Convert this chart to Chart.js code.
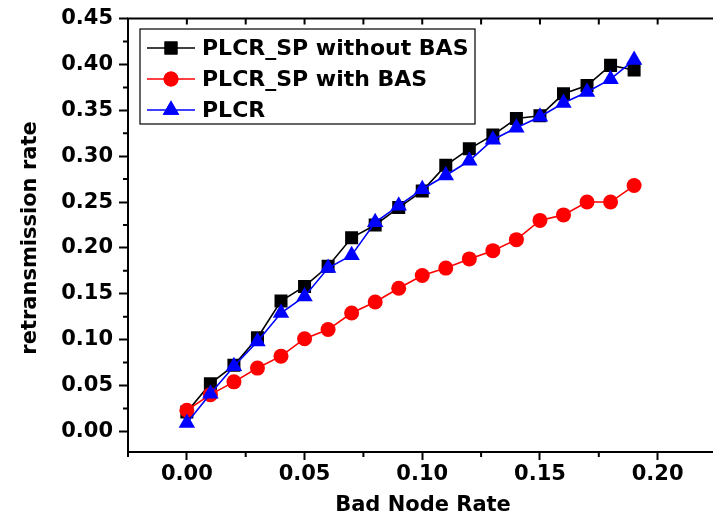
<!DOCTYPE html>
<html>
<head>
<meta charset="utf-8">
<script src="https://cdn.jsdelivr.net/npm/chart.js@4/dist/chart.umd.min.js"></script>
<style>
html,body{margin:0;padding:0;background:#fff;overflow:hidden;}
#wrap{width:730px;height:521px;}
</style>
</head>
<body>
<div id="wrap"><canvas id="c" width="726" height="521"></canvas></div>
<script>
const badNodeRate = [0.00,0.01,0.02,0.03,0.04,0.05,0.06,0.07,0.08,0.09,0.10,0.11,0.12,0.13,0.14,0.15,0.16,0.17,0.18,0.19];
const plcrSpWithoutBas = [0.021,0.052,0.072,0.102,0.142,0.158,0.180,0.211,0.225,0.244,0.262,0.290,0.308,0.323,0.341,0.344,0.368,0.377,0.399,0.394];
const plcrSpWithBas    = [0.023,0.040,0.054,0.069,0.082,0.101,0.111,0.129,0.141,0.156,0.170,0.178,0.188,0.197,0.209,0.230,0.236,0.250,0.250,0.268];
const plcr             = [0.009,0.041,0.071,0.098,0.129,0.147,0.178,0.192,0.228,0.246,0.264,0.279,0.295,0.318,0.331,0.343,0.358,0.370,0.384,0.405];
const seriesNames = ['PLCR_SP without BAS','PLCR_SP with BAS','PLCR'];
const xTickLabels = [0.00,0.05,0.10,0.15,0.20];
const yTickLabels = [0.00,0.05,0.10,0.15,0.20,0.25,0.30,0.35,0.40,0.45];
const xMinorTicks = [-0.025,0.025,0.075,0.125,0.175,0.225];
const yMinorTicks = [0.025,0.075,0.125,0.175,0.225,0.275,0.325,0.375,0.425];
const xAxisTitle = 'Bad Node Rate';
const yAxisTitle = 'retransmission rate';

const FONT = '"DejaVu Sans", "Liberation Sans", Arial, sans-serif';
const pts = (ys) => badNodeRate.map((x,i)=>({x:x,y:ys[i]}));

const styles = [
  {color:'#000000', pointStyle:'rect', radius:9.2},
  {color:'#ff0000', pointStyle:'circle', radius:7.5},
  {color:'#0000ff', pointStyle:'triangle', radius:9.5}
];
const seriesData = [plcrSpWithoutBas, plcrSpWithBas, plcr];

const datasets = seriesData.map((d,i)=>({
  label: seriesNames[i],
  data: pts(d),
  borderColor: styles[i].color,
  backgroundColor: styles[i].color,
  borderWidth: 1.6,
  pointStyle: styles[i].pointStyle,
  pointRadius: styles[i].radius,
  pointBorderWidth: 0,
  pointHoverRadius: styles[i].radius,
  tension: 0,
  order: 2 - i
}));

const framePlugin = {
  id: 'frame',
  afterDraw(chart) {
    const ctx = chart.ctx;
    const a = chart.chartArea;
    const xs = chart.scales.x, ys = chart.scales.y;
    ctx.save();
    ctx.strokeStyle = '#000';
    ctx.lineWidth = 2;
    ctx.beginPath();
    ctx.moveTo(a.left, a.bottom);
    ctx.lineTo(a.left, a.top);
    ctx.lineTo(a.right + 5, a.top);
    ctx.moveTo(a.left - 1, a.bottom);
    ctx.lineTo(a.right + 5, a.bottom);
    ctx.stroke();
    ctx.lineWidth = 2;
    ctx.beginPath();
    xMinorTicks.forEach(v=>{
      const px = xs.getPixelForValue(v);
      ctx.moveTo(px, a.bottom); ctx.lineTo(px, a.bottom + 5);
    });
    [...xTickLabels, ...xMinorTicks].forEach(v=>{
      const px = xs.getPixelForValue(v);
      ctx.moveTo(px, a.top); ctx.lineTo(px, a.top + 6);
    });
    yMinorTicks.forEach(v=>{
      const py = ys.getPixelForValue(v);
      ctx.moveTo(a.left, py); ctx.lineTo(a.left - 5, py);
    });
    ctx.stroke();

    // axis titles
    ctx.fillStyle = '#000';
    ctx.font = 'bold 21px ' + FONT;
    ctx.textAlign = 'center';
    ctx.textBaseline = 'middle';
    ctx.fillText(xAxisTitle, 423, 506);
    ctx.save();
    ctx.translate(31, 238);
    ctx.rotate(-Math.PI/2);
    ctx.fillText(yAxisTitle, 0, 0);
    ctx.restore();

    // legend
    const lx = 140, ly = 29, lw = 335, lh = 95;
    ctx.lineWidth = 1.2;
    ctx.strokeStyle = '#000';
    ctx.fillStyle = '#fff';
    ctx.fillRect(lx, ly, lw, lh);
    ctx.strokeRect(lx, ly, lw, lh);
    const rowsY = [48, 79, 110];
    ctx.font = 'bold 22px ' + FONT;
    ctx.textAlign = 'left';
    ctx.textBaseline = 'middle';
    seriesNames.forEach((name,i)=>{
      const y = rowsY[i];
      ctx.strokeStyle = styles[i].color;
      ctx.lineWidth = 1.6;
      ctx.beginPath(); ctx.moveTo(147, y); ctx.lineTo(195, y); ctx.stroke();
      ctx.fillStyle = styles[i].color;
      Chart.helpers.drawPoint(ctx, {pointStyle: styles[i].pointStyle, radius: styles[i].radius, rotation: 0, borderWidth: 0}, 171, y);
      ctx.fill();
      ctx.fillStyle = '#000';
      ctx.fillText(name, 202, y + 1);
    });
    ctx.restore();
  }
};

new Chart(document.getElementById('c'), {
  type: 'line',
  data: { datasets },
  options: {
    responsive: false,
    animation: false,
    devicePixelRatio: 1,
    layout: { padding: { top: 15, left: 0, right: 3, bottom: 0 } },
    plugins: { legend: { display: false }, tooltip: { enabled: false } },
    scales: {
      x: {
        type: 'linear',
        min: -0.025, max: 0.225,
        afterBuildTicks: (s) => { s.ticks = xTickLabels.map(v=>({value:v})); },
        afterFit: (s) => { s.height = 69; },
        grid: { drawOnChartArea: false, drawTicks: true, tickLength: 8, tickWidth: 2, tickColor: '#000' },
        border: { display: false },
        ticks: {
          color: '#000', padding: 2, maxRotation: 0, autoSkip: false,
          font: { family: FONT, size: 21, weight: 'bold' },
          callback: (v) => Number(v).toFixed(2)
        }
      },
      y: {
        type: 'linear',
        min: -0.0225, max: 0.45,
        afterBuildTicks: (s) => { s.ticks = yTickLabels.map(v=>({value:v})); },
        afterFit: (s) => { s.width = 128; },
        grid: { drawOnChartArea: false, drawTicks: true, tickLength: 9, tickWidth: 2, tickColor: '#000' },
        border: { display: false },
        ticks: {
          color: '#000', padding: 6, autoSkip: false,
          font: { family: FONT, size: 21, weight: 'bold' },
          callback: (v) => Number(v).toFixed(2)
        }
      }
    }
  },
  plugins: [framePlugin]
});
</script>
</body>
</html>
